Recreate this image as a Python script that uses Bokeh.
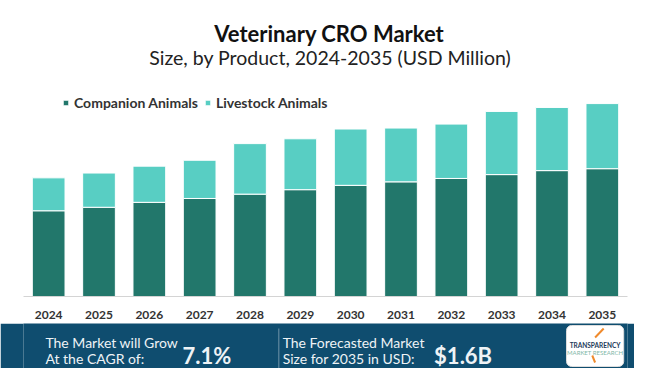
from bokeh.plotting import figure
from bokeh.layouts import column
from bokeh.models import Range1d, ColumnDataSource, Legend, LegendItem
from bokeh.core.properties import value
from bokeh.embed import file_html
from bokeh.resources import INLINE

# ---- data ----
years = ["2024", "2025", "2026", "2027", "2028", "2029",
         "2030", "2031", "2032", "2033", "2034", "2035"]
companion = [711, 740, 781, 813, 849, 886, 922, 951, 979, 1011, 1044, 1060]
livestock = [273, 284, 300, 317, 419, 422, 467, 446, 451, 524, 524, 540]
series_names = ["Companion Animals", "Livestock Animals"]
title_text = "Veterinary CRO Market"
subtitle_text = "Size, by Product, 2024-2035 (USD Million)"
cagr_label = ["The Market will Grow", "At the CAGR of:"]
cagr_value = "7.1%"
size_label = ["The Forecasted Market", "Size for 2035 in USD:"]
size_value = "$1.6B"

C_COMP = "#22776b"
C_LIVE = "#58cec3"
C_BANNER = "#0f4d6f"
BG = "#ffffff"
W = 634

def blank(h, bg):
    f = figure(width=W, height=h, x_range=Range1d(0, W), y_range=Range1d(h, 0),
               x_axis_type=None, y_axis_type=None, output_backend="svg",
               toolbar_location=None, min_border=0, outline_line_color=None,
               background_fill_color=bg, border_fill_color=bg)
    f.grid.visible = False
    return f

# ---- header ----
HH = 68
hdr = blank(HH, BG)
hdr.text(x=[321], y=[33], text=[title_text], text_align="center",
         text_baseline="alphabetic", text_font=value("Lato"),
         text_font_style="bold", text_font_size="22px", text_color="#111111")
hdr.text(x=[322], y=[57], text=[subtitle_text], text_align="center",
         text_baseline="alphabetic", text_font=value("Lato"),
         text_font_size="19.5px", text_color="#222222")

# ---- chart ----
CH = 255
src = ColumnDataSource(dict(year=years, companion=companion, livestock=livestock))
ch = figure(width=W, height=CH, x_range=years, y_range=Range1d(0, 1750),
            y_axis_type=None, output_backend="svg", toolbar_location=None,
            min_border_left=23, min_border_right=7, min_border_top=17,
            min_border_bottom=27, outline_line_color=None,
            background_fill_color=BG, border_fill_color=BG)
ch.grid.visible = False
rs = ch.vbar_stack(["companion", "livestock"], x="year", width=0.65,
                   color=[C_COMP, C_LIVE], line_color="white", line_width=1,
                   source=src)
ch.xaxis.axis_line_color = "#d4d4d4"
ch.xaxis.major_tick_line_color = None
ch.xaxis.minor_tick_line_color = None
ch.xaxis.major_label_text_font = "Lato"
ch.xaxis.major_label_text_font_style = "bold"
ch.xaxis.major_label_text_font_size = "12px"
ch.xaxis.major_label_text_color = "#333333"
ch.xaxis.major_label_standoff = 8
ch.x_range.range_padding = 0

legend = Legend(items=[LegendItem(label=series_names[0], renderers=[rs[0]]),
                       LegendItem(label=series_names[1], renderers=[rs[1]])],
                location=(39, 185), orientation="horizontal",
                glyph_width=7, glyph_height=7, label_standoff=5, spacing=6,
                padding=0, margin=0, background_fill_alpha=0,
                border_line_color=None, label_text_font="Lato",
                label_text_font_size="14px", label_text_font_style="bold",
                label_text_color="#333333")
ch.add_layout(legend)

# ---- banner ----
BH = 45
bn = blank(BH, C_BANNER)
txt = dict(text_font=value("Lato"), text_baseline="alphabetic", text_color="#eef3f6")
bn.text(x=[23, 23], y=[19, 35], text=cagr_label, text_font_size="14px", **txt)
bn.text(x=[167], y=[32], text=[cagr_value], text_font_size="22px",
        text_font_style="bold", **txt)
bn.segment(x0=[268], y0=[5], x1=[268], y1=[45], line_color="#6f93a8", line_width=1)
bn.text(x=[272, 272], y=[19, 35], text=size_label, text_font_size="14px", **txt)
bn.text(x=[431], y=[32], text=[size_value], text_font_size="22px",
        text_font_style="bold", **txt)
bn.quad(left=[570], right=[630], top=[2], bottom=[43], fill_color="white",
        line_color="#dddddd", border_radius=5)
bn.text(x=[600], y=[22], text=["TRANSPARENCY"], text_align="center",
        text_font=value("Lato"), text_font_style="bold", text_font_size="6.5px",
        text_color="#1d3b5a", text_baseline="alphabetic")
bn.text(x=[600], y=[29], text=["MARKET RESEARCH"], text_align="center",
        text_font=value("Lato"), text_font_size="6px",
        text_color="#7fb7a8", text_baseline="alphabetic")
bn.segment(x0=[600], y0=[14], x1=[609], y1=[5], line_color="#f08a2c", line_width=2)
bn.segment(x0=[597], y0=[32], x1=[600], y1=[39], line_color="#f08a2c", line_width=2)

layout = column(hdr, ch, bn, spacing=0)
open("out.html", "w").write(file_html(layout, INLINE))
